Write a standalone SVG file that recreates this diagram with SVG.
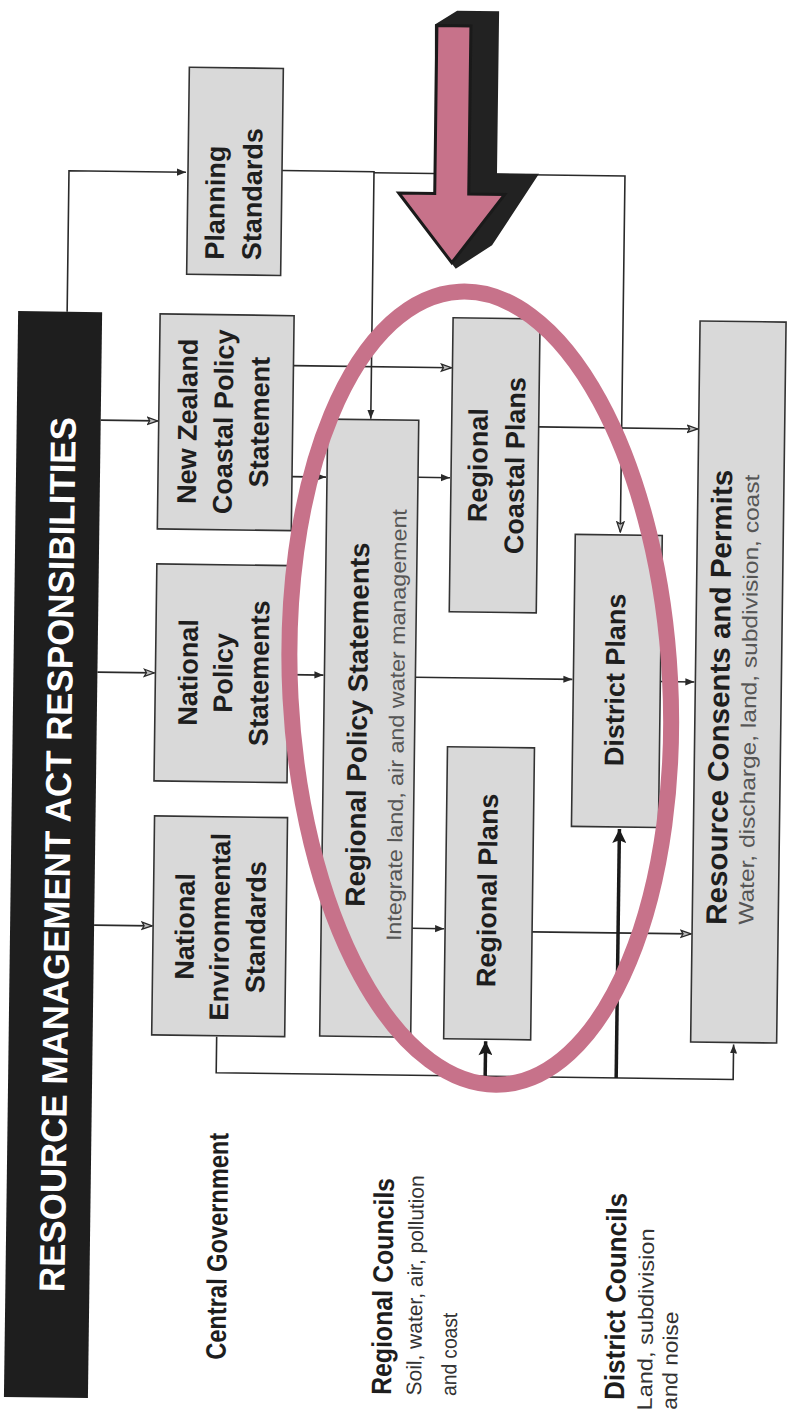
<svg xmlns="http://www.w3.org/2000/svg" width="787" height="1414" viewBox="0 0 787 1414">
<defs>
<style>
.box{fill:#d9d9d9;stroke:#333;stroke-width:1.6}
.t{font-family:"Liberation Sans",Arial,sans-serif;font-weight:bold;fill:#1e1e1e}
.s{font-family:"Liberation Sans",Arial,sans-serif;fill:#555}
.c{fill:none;stroke:#2a2a2a;stroke-width:1.6}
.thick{fill:none;stroke:#1a1a1a;stroke-width:3.5}
</style>
<marker id="sol" viewBox="0 0 10 10" refX="10" refY="5" markerWidth="9" markerHeight="9" markerUnits="userSpaceOnUse" orient="auto"><path d="M0,1 L10,5 L0,9 z" fill="#2a2a2a"/></marker>
<marker id="opn" viewBox="0 0 12 10" refX="11" refY="5" markerWidth="12" markerHeight="10" markerUnits="userSpaceOnUse" orient="auto"><path d="M1,1.5 L11,5 L1,8.5 L3,5 z" fill="#bbb" stroke="#2a2a2a" stroke-width="1.3"/></marker>
<marker id="big" viewBox="0 0 10 10" refX="10" refY="5" markerWidth="16" markerHeight="14" markerUnits="userSpaceOnUse" orient="auto"><path d="M0,0 L10,5 L0,10 L2,5 z" fill="#1a1a1a"/></marker>
</defs>
<rect width="787" height="1414" fill="#fff"/>
<g transform="rotate(0.75 393 707)">
<g id="connectors">
<path class="c" d="M62,316 V175 H179" marker-end="url(#sol)"/>
<path class="c" d="M97,424 H154" marker-end="url(#opn)"/>
<path class="c" d="M97,676 H154" marker-end="url(#opn)"/>
<path class="c" d="M97,929 H155" marker-end="url(#opn)"/>
<path class="c" d="M275,172 H367 V419" marker-end="url(#sol)"/>
<path class="c" d="M367,173 H618 V529" marker-end="url(#opn)"/>
<path class="c" d="M289,367 H447" marker-end="url(#opn)"/>
<path class="c" d="M289,478 H323" marker-end="url(#sol)"/>
<path class="c" d="M288,676 H323" marker-end="url(#sol)"/>
<path class="c" d="M415,477 H447" marker-end="url(#sol)"/>
<path class="c" d="M415,677 H572" marker-end="url(#sol)"/>
<path class="c" d="M415,928 H447" marker-end="url(#sol)"/>
<path class="c" d="M535,425 H694" marker-end="url(#opn)"/>
<path class="c" d="M660,678 H694" marker-end="url(#sol)"/>
<path class="c" d="M535,930 H694" marker-end="url(#opn)"/>
<path class="c" d="M221,1039 V1075 H738 V1040" marker-end="url(#sol)"/>
<path class="thick" d="M490,1075 V1040" marker-end="url(#big)"/>
<path class="thick" d="M621,1075 V826" marker-end="url(#big)"/>
</g>
<g id="title">
<rect x="13" y="316" width="84" height="1086" fill="#1e1e1e"/>
<text transform="translate(72,859) rotate(-90)" text-anchor="middle" font-family="Liberation Sans, Arial, sans-serif" font-weight="bold" font-size="36" fill="#fff" textLength="875" lengthAdjust="spacingAndGlyphs">RESOURCE MANAGEMENT ACT RESPONSIBILITIES</text>
</g>
<g id="planning-standards">
<rect class="box" x="181" y="70" width="94" height="207"/>
<text class="t" font-size="27" transform="translate(218,262) rotate(-90)">Planning</text>
<text class="t" font-size="27" transform="translate(255,262) rotate(-90)">Standards</text>
</g>
<g id="nzcps">
<rect class="box" x="155" y="317" width="134" height="215"/>
<text class="t" font-size="27" text-anchor="middle" transform="translate(193,424) rotate(-90)">New Zealand</text>
<text class="t" font-size="27" text-anchor="middle" transform="translate(229,424) rotate(-90)">Coastal Policy</text>
<text class="t" font-size="27" text-anchor="middle" transform="translate(265,424) rotate(-90)">Statement</text>
</g>
<g id="nps">
<rect class="box" x="155" y="567" width="133" height="217"/>
<text class="t" font-size="27" text-anchor="middle" transform="translate(197,675) rotate(-90)">National</text>
<text class="t" font-size="27" text-anchor="middle" transform="translate(232,675) rotate(-90)">Policy</text>
<text class="t" font-size="27" text-anchor="middle" transform="translate(268,675) rotate(-90)">Statements</text>
</g>
<g id="nes">
<rect class="box" x="156" y="819" width="133" height="219"/>
<text class="t" font-size="27" text-anchor="middle" transform="translate(197,929) rotate(-90)">National</text>
<text class="t" font-size="27" text-anchor="middle" transform="translate(232,929) rotate(-90)">Environmental</text>
<text class="t" font-size="27" text-anchor="middle" transform="translate(268,929) rotate(-90)">Standards</text>
</g>
<g id="rps">
<rect class="box" x="324" y="420" width="91" height="617"/>
<text class="t" font-size="27.5" text-anchor="middle" transform="translate(367,725) rotate(-90)" textLength="364" lengthAdjust="spacingAndGlyphs">Regional Policy Statements</text>
<text class="s" font-size="21" text-anchor="middle" transform="translate(404,725) rotate(-90)" textLength="432" lengthAdjust="spacingAndGlyphs">Integrate land, air and water management</text>
</g>
<g id="rcp">
<rect class="box" x="448" y="317" width="87" height="294"/>
<text class="t" font-size="27" text-anchor="middle" transform="translate(484,464) rotate(-90)">Regional</text>
<text class="t" font-size="27" text-anchor="middle" transform="translate(521,464) rotate(-90)">Coastal Plans</text>
</g>
<g id="rp">
<rect class="box" x="448" y="746" width="87" height="292"/>
<text class="t" font-size="27" text-anchor="middle" transform="translate(499,889) rotate(-90)">Regional Plans</text>
</g>
<g id="dp">
<rect class="box" x="573" y="532" width="87" height="292"/>
<text class="t" font-size="27" text-anchor="middle" transform="translate(624,677) rotate(-90)">District Plans</text>
</g>
<g id="rc">
<rect class="box" x="695" y="317" width="86" height="721"/>
<text class="t" font-size="29" text-anchor="middle" transform="translate(729,693) rotate(-90)" textLength="455" lengthAdjust="spacingAndGlyphs">Resource Consents and Permits</text>
<text class="s" font-size="21" text-anchor="middle" transform="translate(756,695) rotate(-90)" textLength="450" lengthAdjust="spacingAndGlyphs">Water, discharge, land, subdivision, coast</text>
</g>
<g id="labels">
<text class="t" font-size="28" transform="translate(234,1362) rotate(-90)" textLength="227" lengthAdjust="spacingAndGlyphs">Central Government</text>
<text class="t" font-size="28" transform="translate(400,1395) rotate(-90)" textLength="217" lengthAdjust="spacingAndGlyphs">Regional Councils</text>
<text class="s" font-size="21" style="fill:#333" transform="translate(430,1395) rotate(-90)" textLength="220" lengthAdjust="spacingAndGlyphs">Soil, water, air, pollution</text>
<text class="s" font-size="21" style="fill:#333" transform="translate(465,1395) rotate(-90)" textLength="83" lengthAdjust="spacingAndGlyphs">and coast</text>
<text class="t" font-size="28" transform="translate(633,1397) rotate(-90)" textLength="207" lengthAdjust="spacingAndGlyphs">District Councils</text>
<text class="s" font-size="21" style="fill:#333" transform="translate(661,1407) rotate(-90)" textLength="182" lengthAdjust="spacingAndGlyphs">Land, subdivision</text>
<text class="s" font-size="21" style="fill:#333" transform="translate(686,1406) rotate(-90)" textLength="98" lengthAdjust="spacingAndGlyphs">and noise</text>
</g>
<g id="focus-ellipse">
<ellipse cx="480" cy="687" rx="190" ry="397" transform="rotate(-3.75 480 687)" fill="none" stroke="#c7728a" stroke-width="16"/>
</g>
<g id="big-arrow">
<polygon points="426,24 448,10 490,10 490,172 532,172 486,244 450,268 392,193 428,193" fill="#222"/>
<polygon points="428,25 462,25 462,193 498,193 446,262 392,193 428,193" fill="#c7728a" stroke="#1a1a1a" stroke-width="3" stroke-linejoin="miter"/>
</g>
</g>
</svg>
